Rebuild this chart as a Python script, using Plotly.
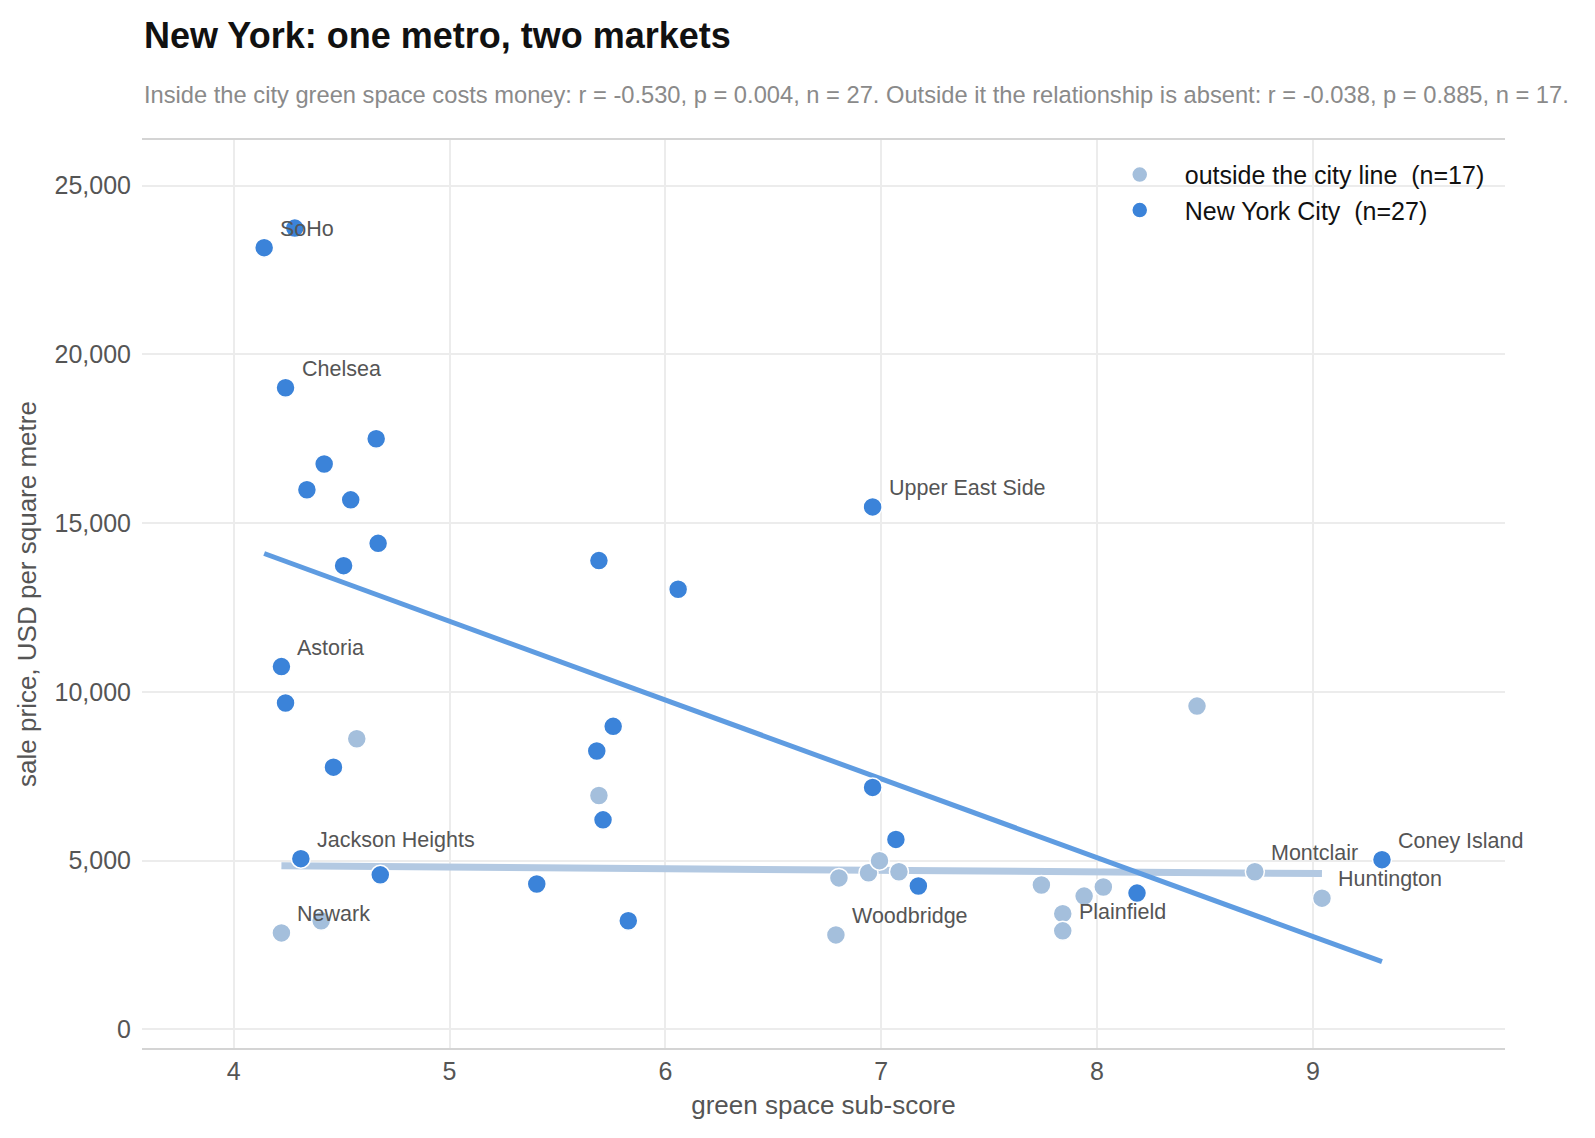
import numpy as np
import plotly.graph_objects as go

# ---- data ----
nyc_x = [4.141, 4.283, 4.240, 4.660, 4.419, 4.339, 4.542, 4.669, 4.509, 5.692,
         6.059, 6.960, 4.221, 4.240, 4.462, 5.758, 5.682, 5.711, 6.960, 7.068,
         4.311, 4.679, 5.404, 5.828, 7.172, 8.185, 9.320]
nyc_y = [23160, 23740, 19010, 17500, 16750, 15990, 15690, 14400, 13740, 13890,
         13040, 15480, 10750, 9670, 7770, 8980, 8250, 6210, 7170, 5630,
         5060, 4580, 4310, 3220, 4250, 4040, 5030]
nyc_labels = ["SoHo", "", "Chelsea", "", "", "", "", "", "", "",
              "", "Upper East Side", "Astoria", "", "", "", "", "", "", "",
              "Jackson Heights", "", "", "", "", "", "Coney Island"]

out_x = [4.570, 5.692, 4.221, 4.405, 6.790, 6.804, 6.941, 6.992, 7.082, 7.742,
         7.940, 8.029, 7.841, 7.841, 8.463, 8.731, 9.042]
out_y = [8610, 6930, 2860, 3220, 2800, 4490, 4640, 5000, 4670, 4280,
         3950, 4220, 3430, 2920, 9580, 4670, 3890]
out_labels = ["", "", "Newark", "", "Woodbridge", "", "", "", "", "",
              "", "", "", "Plainfield", "", "Montclair", "Huntington"]

x_ticks = [4, 5, 6, 7, 8, 9]
y_ticks = [0, 5000, 10000, 15000, 20000, 25000]

title = "New York: one metro, two markets"
subtitle = ("Inside the city green space costs money: r = -0.530, p = 0.004, n = 27. "
            "Outside it the relationship is absent: r = -0.038, p = 0.885, n = 17.")

NYC_C = "#3b83d9"
OUT_C = "#a4bfdc"
FONT = "Liberation Sans, Arial, sans-serif"


def fit(xs, ys):
    xs = np.asarray(xs, float)
    ys = np.asarray(ys, float)
    b, a = np.polyfit(xs, ys, 1)
    lx = np.array([xs.min(), xs.max()])
    return lx, a + b * lx


fig = go.Figure()

ox, oy = fit(out_x, out_y)
fig.add_trace(go.Scatter(x=ox, y=oy, mode="lines", showlegend=False, hoverinfo="skip",
                         line=dict(color="#b3c9e2", width=7)))
nx, ny = fit(nyc_x, nyc_y)
fig.add_trace(go.Scatter(x=nx, y=ny, mode="lines", showlegend=False, hoverinfo="skip",
                         line=dict(color="#5f9ce1", width=5)))

fig.add_trace(go.Scatter(x=out_x, y=out_y, mode="markers",
                         name="outside the city line \u00a0(n=%d)" % len(out_x),
                         marker=dict(size=19, color=OUT_C, line=dict(color="white", width=1.5))))
fig.add_trace(go.Scatter(x=nyc_x, y=nyc_y, mode="markers",
                         name="New York City \u00a0(n=%d)" % len(nyc_x),
                         marker=dict(size=19, color=NYC_C, line=dict(color="white", width=1.5))))

for xs, ys, labs in ((nyc_x, nyc_y, nyc_labels), (out_x, out_y, out_labels)):
    for xv, yv, lb in zip(xs, ys, labs):
        if lb:
            fig.add_annotation(x=xv, y=yv, text=lb, showarrow=False,
                               xanchor="left", yanchor="middle", xshift=14, yshift=19,
                               font=dict(size=21.5, color="#555555", family=FONT))

fig.add_annotation(xref="paper", yref="paper", x=0, y=1.1156, text="<b>%s</b>" % title,
                   showarrow=False, xanchor="left", yanchor="middle",
                   font=dict(size=36, color="#111111", family=FONT))
fig.add_annotation(xref="paper", yref="paper", x=0, y=1.0496, text=subtitle,
                   showarrow=False, xanchor="left", yanchor="middle",
                   font=dict(size=23.7, color="#8a8a8a", family=FONT))

fig.update_layout(
    width=1595, height=1138,
    margin=dict(l=134, r=98, t=132, b=98),
    paper_bgcolor="white", plot_bgcolor="white",
    font=dict(family=FONT, color="#555555", size=24),
    legend=dict(x=0.699, y=0.987, xanchor="left", yanchor="top",
                bgcolor="rgba(0,0,0,0)", itemwidth=80,
                font=dict(size=25, color="#111111"), tracegroupgap=0),
    xaxis=dict(range=[3.575, 9.89], tickvals=x_ticks, ticktext=[str(v) for v in x_ticks],
               showgrid=True, gridcolor="#ececec", gridwidth=2, zeroline=False,
               showline=True, linecolor="#d4d4d4", linewidth=2, mirror=True,
               ticks="", tickfont=dict(size=25, color="#555555"),
               title=dict(text="green space sub-score", font=dict(size=26, color="#555555"), standoff=12)),
    yaxis=dict(range=[-550, 26350], tickvals=y_ticks,
               ticktext=["0" if v == 0 else "{:,}".format(v) for v in y_ticks],
               showgrid=True, gridcolor="#ececec", gridwidth=2, zeroline=False,
               showline=False, ticks="", ticklabelstandoff=10,
               tickfont=dict(size=25, color="#555555"),
               title=dict(text="sale price, USD per square metre", font=dict(size=26, color="#555555"), standoff=10)),
)

fig.write_html("out.html")
